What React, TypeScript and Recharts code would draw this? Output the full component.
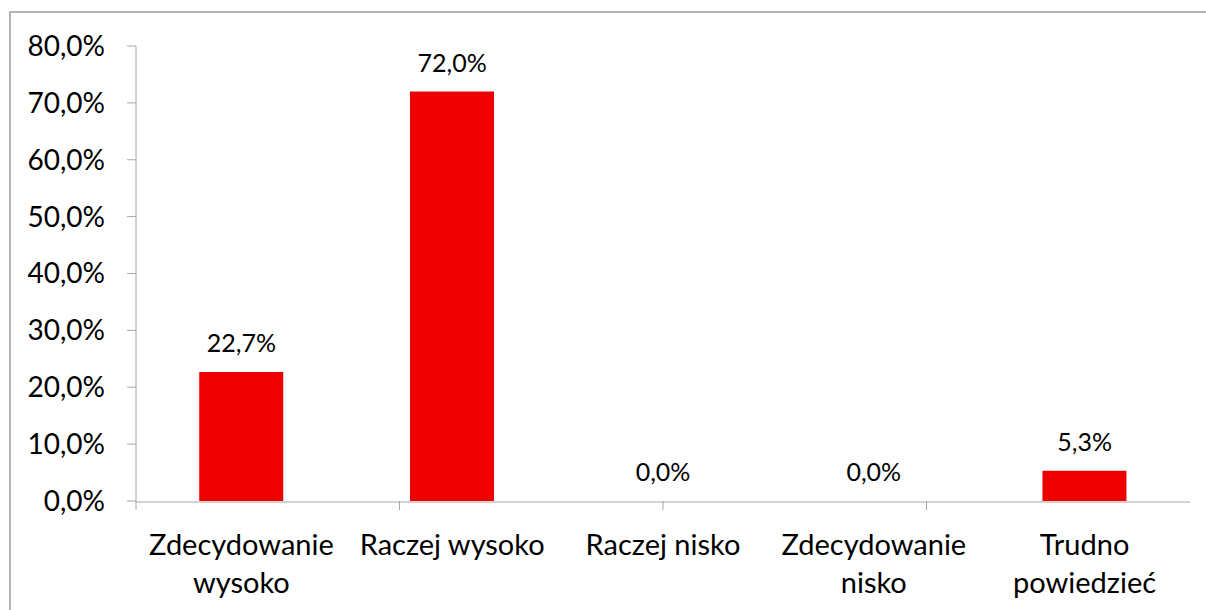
import { Bar, ComposedChart, LabelList, Line, XAxis, YAxis } from 'recharts';

const categories = [
  'Zdecydowanie wysoko',
  'Raczej wysoko',
  'Raczej nisko',
  'Zdecydowanie nisko',
  'Trudno powiedzieć',
];
const shares = [22.7, 72.0, 0.0, 0.0, 5.3];
const yTicks = [0, 10, 20, 30, 40, 50, 60, 70, 80];
const boundaryTicks = [0, 1, 2, 3, 4, 5];

const FONT = 'Lato, "Open Sans", sans-serif';
const AXIS = '#a6a6a6';

const fmt = (v: number) => `${v.toFixed(1).replace('.', ',')}%`;

function CategoryTick({ x, y, payload }: any) {
  const label: string = payload.value;
  // long labels wrap onto two lines, like in Excel
  const lines = label.length > 14 ? label.split(' ') : [label];
  return (
    <text x={x} y={y} textAnchor="middle" fontSize={29} fill="#000" fontFamily={FONT}>
      {lines.map((line, i) => (
        <tspan key={i} x={x} y={y + 51 + i * 38}>
          {line}
        </tspan>
      ))}
    </text>
  );
}

// zero-height bars get no label from the Bar, so labels ride on an invisible line
function ValueLabel({ x, y, value }: any) {
  return (
    <text x={x} y={Number(y) - 20} textAnchor="middle" fontSize={25} fill="#000" fontFamily={FONT}>
      {fmt(Number(value))}
    </text>
  );
}

export default function App() {
  const data = categories.map((name, i) => ({ name, value: shares[i] }));

  return (
    <div
      style={{
        position: 'absolute',
        left: 0,
        top: 0,
        width: 1206,
        height: 610,
        overflow: 'hidden',
        background: '#fff',
      }}
    >
      <div
        style={{
          position: 'absolute',
          left: 9,
          top: 11,
          width: 1400,
          height: 800,
          border: '2px solid #b4b4b4',
        }}
      />
      <div style={{ position: 'absolute', left: 0, top: 0 }}>
        <ComposedChart
          width={1206}
          height={610}
          data={data}
          margin={{ top: 46, right: 16, left: 10, bottom: 0 }}
          barCategoryGap="30%"
        >
          <XAxis
            xAxisId="bounds"
            type="number"
            domain={[0, 5]}
            ticks={boundaryTicks}
            allowDataOverflow
            axisLine={false}
            tick={() => <g />}
            tickSize={9}
            tickLine={{ stroke: AXIS }}
            height={1}
          />
          <XAxis
            xAxisId="cat"
            dataKey="name"
            height={108}
            tickSize={0}
            tickLine={false}
            axisLine={{ stroke: AXIS }}
            interval={0}
            tick={<CategoryTick />}
          />
          <YAxis
            width={126}
            domain={[0, 80]}
            ticks={yTicks}
            tickFormatter={fmt}
            tickSize={9}
            tickMargin={22}
            axisLine={{ stroke: AXIS }}
            tickLine={{ stroke: AXIS }}
            tick={{ fontSize: 28, fill: '#000', fontFamily: FONT }}
          />
          <Bar xAxisId="cat" dataKey="value" fill="#ee0000" isAnimationActive={false} />
          <Line
            xAxisId="cat"
            dataKey="value"
            stroke="none"
            dot={false}
            activeDot={false}
            legendType="none"
            isAnimationActive={false}
          >
            <LabelList dataKey="value" content={<ValueLabel />} />
          </Line>
        </ComposedChart>
      </div>
    </div>
  );
}
